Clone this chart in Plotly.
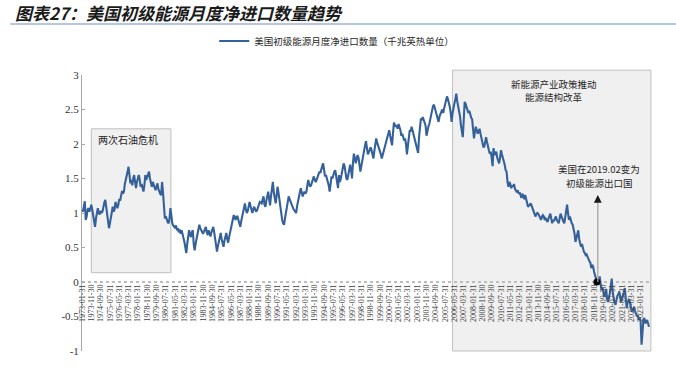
import pandas as pd
import plotly.graph_objects as go

# Monthly US net imports of primary energy (quadrillion Btu), Jan 1973 - Oct 2023
net_imports = [
    1.05, 1.02, 1.10, 1.17, 0.90, 0.95, 1.05, 1.07, 1.02, 1.08, 1.12, 1.05,  # 1973
    0.95, 0.85, 0.80, 0.92, 0.98, 1.07, 1.00, 0.98, 1.03, 1.00, 1.02, 1.10,  # 1974
    1.15, 1.19, 1.10, 0.95, 0.85, 0.78, 0.85, 0.95, 1.00, 1.09, 1.02, 1.05,  # 1975
    1.16, 1.10, 1.07, 1.12, 1.20, 1.18, 1.25, 1.32, 1.28, 1.31, 1.42, 1.50,  # 1976
    1.52, 1.60, 1.67, 1.55, 1.43, 1.48, 1.40, 1.50, 1.55, 1.45, 1.36, 1.45,  # 1977
    1.50, 1.55, 1.48, 1.38, 1.42, 1.35, 1.31, 1.40, 1.55, 1.48, 1.52, 1.58,  # 1978
    1.60, 1.50, 1.43, 1.38, 1.45, 1.40, 1.35, 1.33, 1.38, 1.43, 1.35, 1.30,  # 1979
    1.28, 1.26, 1.45, 1.30, 1.10, 0.92, 0.95, 0.90, 0.87, 0.85, 0.92, 1.07,  # 1980
    0.95, 0.85, 0.82, 0.80, 0.78, 0.82, 0.75, 0.78, 0.72, 0.76, 0.70, 0.75,  # 1981
    0.70, 0.65, 0.58, 0.50, 0.42, 0.55, 0.68, 0.75, 0.70, 0.65, 0.72, 0.75,  # 1982
    0.55, 0.46, 0.55, 0.62, 0.67, 0.75, 0.83, 0.78, 0.75, 0.72, 0.70, 0.73,  # 1983
    0.78, 0.80, 0.72, 0.68, 0.75, 0.70, 0.66, 0.72, 0.76, 0.80, 0.72, 0.63,  # 1984
    0.55, 0.44, 0.52, 0.60, 0.65, 0.71, 0.62, 0.55, 0.51, 0.60, 0.68, 0.71,  # 1985
    0.62, 0.57, 0.65, 0.72, 0.80, 0.85, 0.92, 0.97, 0.93, 0.90, 0.95, 0.95,  # 1986
    0.90, 0.85, 0.80, 0.88, 0.95, 1.02, 1.08, 1.14, 1.05, 1.00, 1.03, 1.08,  # 1987
    1.16, 1.10, 1.04, 1.00, 1.06, 1.09, 1.05, 1.02, 1.04, 1.08, 1.12, 1.16,  # 1988
    1.15, 1.14, 1.20, 1.24, 1.12, 1.09, 1.18, 1.25, 1.31, 1.20, 1.11, 1.25,  # 1989
    1.35, 1.45, 1.30, 1.20, 1.14, 1.25, 1.38, 1.30, 1.19, 1.05, 1.00, 0.90,  # 1990
    0.85, 0.83, 0.92, 1.00, 1.09, 1.15, 1.24, 1.20, 1.16, 1.12, 1.10, 1.06,  # 1991
    1.04, 1.02, 1.00, 1.10, 1.19, 1.25, 1.30, 1.36, 1.28, 1.24, 1.28, 1.31,  # 1992
    1.28, 1.31, 1.40, 1.48, 1.42, 1.38, 1.40, 1.45, 1.50, 1.53, 1.48, 1.45,  # 1993
    1.48, 1.52, 1.55, 1.60, 1.58, 1.65, 1.68, 1.72, 1.62, 1.53, 1.55, 1.50,  # 1994
    1.48, 1.40, 1.31, 1.42, 1.53, 1.50, 1.58, 1.60, 1.62, 1.55, 1.45, 1.36,  # 1995
    1.55, 1.45, 1.50, 1.58, 1.65, 1.72, 1.68, 1.55, 1.50, 1.48, 1.55, 1.62,  # 1996
    1.70, 1.62, 1.50, 1.72, 1.86, 1.80, 1.72, 1.78, 1.84, 1.80, 1.72, 1.60,  # 1997
    1.68, 1.77, 1.82, 1.90, 1.98, 2.04, 1.95, 1.85, 1.88, 1.92, 1.95, 1.91,  # 1998
    1.85, 1.79, 1.90, 2.00, 2.08, 2.02, 1.98, 1.95, 1.90, 1.85, 1.79, 1.85,  # 1999
    1.90, 1.96, 2.00, 2.05, 2.10, 2.15, 2.20, 2.12, 2.05, 1.98, 2.15, 2.31,  # 2000
    2.28, 2.25, 2.27, 2.22, 2.29, 2.25, 2.20, 2.12, 2.15, 2.10, 2.05, 2.08,  # 2001
    2.00, 1.85, 1.95, 2.10, 2.20, 2.18, 2.25, 2.20, 2.15, 2.10, 2.05, 2.00,  # 2002
    1.95, 1.87, 2.10, 2.30, 2.37, 2.35, 2.39, 2.35, 2.30, 2.27, 2.12, 2.20,  # 2003
    2.25, 2.29, 2.35, 2.45, 2.50, 2.55, 2.57, 2.52, 2.49, 2.45, 2.38, 2.32,  # 2004
    2.40, 2.45, 2.47, 2.50, 2.45, 2.52, 2.59, 2.62, 2.69, 2.65, 2.60, 2.54,  # 2005
    2.45, 2.32, 2.45, 2.55, 2.59, 2.65, 2.73, 2.62, 2.55, 2.49, 2.40, 2.27,  # 2006
    2.20, 2.10, 2.35, 2.61, 2.58, 2.54, 2.50, 2.45, 2.48, 2.42, 2.38, 2.36,  # 2007
    2.15, 2.08, 2.18, 2.25, 2.20, 2.15, 2.18, 2.22, 2.15, 2.10, 2.05, 1.96,  # 2008
    1.96, 2.05, 2.10, 2.03, 1.95, 1.91, 1.86, 1.89, 1.80, 1.68, 1.94, 1.85,  # 2009
    1.85, 1.89, 1.80, 1.75, 1.72, 1.80, 1.91, 1.85, 1.81, 1.75, 1.70, 1.62,  # 2010
    1.60, 1.45, 1.38, 1.45, 1.42, 1.36, 1.40, 1.38, 1.42, 1.35, 1.33, 1.30,  # 2011
    1.33, 1.28, 1.30, 1.24, 1.22, 1.28, 1.25, 1.20, 1.26, 1.22, 1.15, 1.09,  # 2012
    1.10, 1.12, 1.14, 1.10, 1.07, 1.02, 1.00, 0.95, 0.98, 1.00, 0.99, 0.95,  # 2013
    0.92, 0.90, 0.95, 0.97, 0.95, 0.90, 0.92, 0.88, 0.87, 0.92, 0.95, 0.99,  # 2014
    0.92, 0.85, 0.90, 0.88, 0.92, 0.95, 0.90, 0.88, 0.85, 0.92, 0.99, 0.95,  # 2015
    0.90, 0.88, 0.85, 0.95, 1.05, 1.12, 1.00, 0.90, 0.95, 0.88, 0.85, 0.83,  # 2016
    0.78, 0.70, 0.58, 0.65, 0.70, 0.75, 0.62, 0.55, 0.51, 0.55, 0.48, 0.44,  # 2017
    0.42, 0.39, 0.40, 0.36, 0.34, 0.30, 0.28, 0.20, 0.25, 0.22, 0.15, 0.10,  # 2018
    0.05, 0.00, 0.03, 0.00, 0.08, -0.05, -0.12, -0.08, -0.15, -0.21, -0.18, -0.10,  # 2019
    -0.25, -0.29, -0.22, -0.16, -0.05, 0.05, -0.15, -0.26, -0.30, -0.33, -0.25, -0.20,  # 2020
    -0.18, -0.14, -0.20, -0.29, -0.25, -0.21, -0.15, -0.09, -0.20, -0.38, -0.30, -0.26,  # 2021
    -0.26, -0.35, -0.40, -0.43, -0.38, -0.36, -0.42, -0.45, -0.50, -0.48, -0.55, -0.52,  # 2022
    -0.58, -0.91, -0.62, -0.55, -0.52, -0.60, -0.58, -0.55, -0.60, -0.65,  # 2023
]

start_date = "1973-01-31"
tick_every = 10  # months between x tick labels
y_tickvals = [3, 2.5, 2, 1.5, 1, 0.5, 0, -0.5, -1]
y_ticktext = ["3", "2.5", "2", "1.5", "1", "0.5", "0", "-0.5", "-1"]
export_month = "2019-02-28"

series_name = "美国初级能源月度净进口数量（千兆英热单位）"
title_text = "图表27：美国初级能源月度净进口数量趋势"
note_crisis = "两次石油危机"
note_policy = ["新能源产业政策推动", "能源结构改革"]
note_export = ["美国在2019.02变为", "初级能源出口国"]

try:
    dates = pd.date_range(start_date, periods=len(net_imports), freq="ME")
except ValueError:
    dates = pd.date_range(start_date, periods=len(net_imports), freq="M")
date_labels = dates.strftime("%Y-%m-%d").tolist()
tick_labels = date_labels[::tick_every]

y_min, y_max = -1, 3
zero_pos = (0 - y_min) / (y_max - y_min)
n = len(net_imports)
export_idx = date_labels.index(export_month)

LINE = "#35619a"
CJK = "Noto Sans CJK SC"
SERIF = "Liberation Serif"

fig = go.Figure()
fig.add_trace(go.Scatter(
    x=date_labels, y=net_imports, mode="lines", name=series_name,
    line=dict(color=LINE, width=2.1),
))
fig.add_trace(go.Scatter(
    x=[date_labels[export_idx]], y=[net_imports[export_idx]], mode="markers",
    marker=dict(color="black", size=7), showlegend=False,
))

shapes = [
    # oil crisis box
    dict(type="rect", xref="x", yref="y", x0=10, x1=95.5, y0=0.135, y1=2.22,
         fillcolor="#f0f0f0", line=dict(color="#bfbfbf", width=1), layer="below"),
    # new energy policy box
    dict(type="rect", xref="x", yref="paper", x0=398, x1=611,
         y0=0, y1=(3.07 - y_min) / (y_max - y_min),
         fillcolor="#f0f0f0", line=dict(color="#bfbfbf", width=1), layer="below"),
    # dotted zero line
    dict(type="line", xref="x", yref="y", x0=0, x1=n - 1, y0=0, y1=0,
         line=dict(color="#bdbdbd", width=2, dash="dot"), layer="below"),
    # arrow shaft
    dict(type="line", xref="x", yref="y", x0=export_idx + 1, x1=export_idx + 1,
         y0=0, y1=1.22, line=dict(color="#a6a6a6", width=1.3)),
    # title underline
    dict(type="line", xref="paper", yref="paper", x0=-0.126, x1=1.05,
         y0=(351 - 24) / 276, y1=(351 - 24) / 276,
         line=dict(color="#9bb3d6", width=1.5)),
]

note_font = dict(family=CJK, size=9.5, color="#262626")
annotations = [
    dict(x=49.7, y=2.07, xref="x", yref="y", text=note_crisis, showarrow=False,
         font=dict(family=CJK, size=10, color="#262626")),
    dict(x=506.5, y=2.875, xref="x", yref="y", text=note_policy[0],
         showarrow=False, font=note_font),
    dict(x=506.5, y=2.675, xref="x", yref="y", text=note_policy[1],
         showarrow=False, font=note_font),
    dict(x=555.7, y=1.64, xref="x", yref="y", text=note_export[0],
         showarrow=False, font=note_font),
    dict(x=555.7, y=1.44, xref="x", yref="y", text=note_export[1],
         showarrow=False, font=note_font),
    dict(x=export_idx + 1, y=1.26, xref="x", yref="y", ax=export_idx + 1, ay=1.17,
         axref="x", ayref="y", text="", showarrow=True, arrowhead=2,
         arrowsize=1.2, arrowwidth=1.3, arrowcolor="#1a1a1a", standoff=0),
]

fig.update_layout(
    width=676, height=381,
    margin=dict(l=82, r=24, t=75, b=30),
    paper_bgcolor="white", plot_bgcolor="white",
    title=dict(text=title_text, xref="container", yref="container",
               x=15 / 676, y=1 - 14 / 381, xanchor="left", yanchor="middle",
               font=dict(family=CJK, size=17, color="#1a1a1a",
                         weight="bold", style="italic")),
    showlegend=True,
    legend=dict(orientation="h", x=0.232, y=(351 - 41) / 276,
                xanchor="left", yanchor="middle", bgcolor="rgba(0,0,0,0)",
                font=dict(family=CJK, size=9.5, color="#262626")),
    shapes=shapes,
    annotations=annotations,
    xaxis=dict(
        type="category", range=[0, 612.2], anchor="free", position=zero_pos,
        tickmode="array", tickvals=tick_labels, ticktext=tick_labels,
        tickangle=-90, tickfont=dict(family=SERIF, size=8, color="#404040"),
        showgrid=False, zeroline=False, showline=False, ticks="",
    ),
    yaxis=dict(
        range=[y_min, y_max], tickmode="array", tickvals=y_tickvals,
        ticktext=y_ticktext, tickfont=dict(family=SERIF, size=11, color="#333333"),
        showgrid=False, zeroline=False, showline=True, linecolor="#a6a6a6",
        linewidth=1, ticks="inside", ticklen=3, tickcolor="#a6a6a6",
    ),
)

fig.write_html(
    "out.html",
    config={"displayModeBar": False},
    post_script="document.body.style.margin='0';document.body.style.overflow='hidden';",
)
